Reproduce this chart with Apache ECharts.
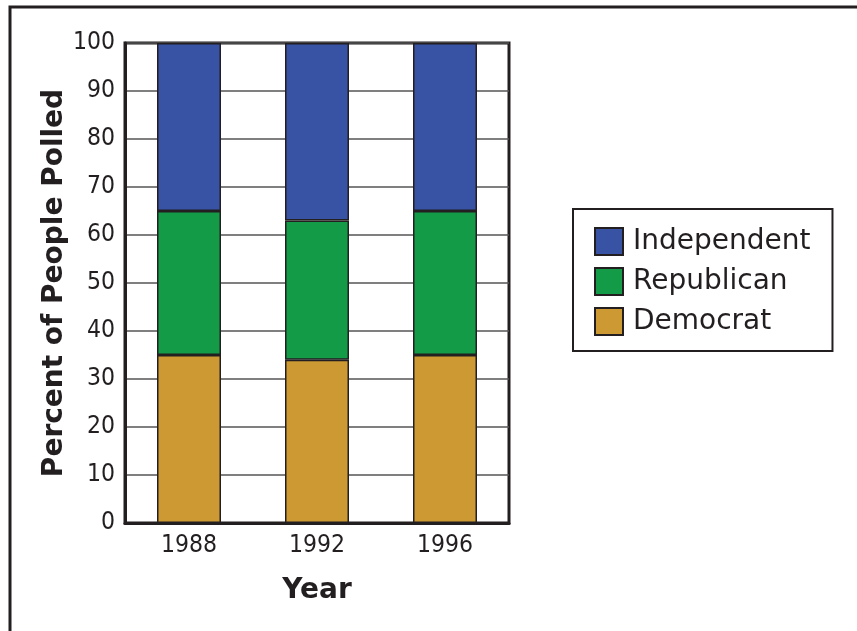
<!DOCTYPE html>
<html>
<head>
<meta charset="utf-8">
<script src="https://cdn.jsdelivr.net/npm/echarts@6/dist/echarts.min.js"></script>
<style>
html,body{margin:0;padding:0;background:#fff;}
#chart{width:857px;height:631px;}
</style>
</head>
<body>
<div id="chart"></div>
<script>
var categories = ['1988', '1992', '1996'];
var democrat = [35, 34, 35];
var republican = [30, 29, 30];
var independent = [35, 37, 35];
var yTicks = [0, 100, 10];

var dark = '#231f20';
var chart = echarts.init(document.getElementById('chart'));
var barBorder = {borderColor: dark, borderWidth: 1.5};
chart.setOption({
  animation: false,
  backgroundColor: '#fff',
  graphic: [{
    type: 'polyline',
    shape: {points: [[10, 700], [10, 7], [900, 7]]},
    style: {stroke: dark, lineWidth: 3, fill: null},
    silent: true
  }],
  legend: {
    orient: 'vertical',
    left: 573,
    top: 209,
    padding: [18, 22, 15, 21],
    itemWidth: 28,
    itemHeight: 27,
    itemGap: 11,
    borderColor: dark,
    borderWidth: 2,
    icon: 'rect',
    data: ['Independent', 'Republican', 'Democrat'],
    textStyle: {fontFamily: 'DejaVu Sans', fontSize: 28, lineHeight: 27, color: dark, padding: [0, 0, 0, 5]}
  },
  grid: {
    left: 125, right: 348, top: 43, bottom: 108,
    show: true, borderColor: dark, borderWidth: 3, backgroundColor: 'transparent'
  },
  xAxis: {
    type: 'category',
    data: categories,
    name: 'Year',
    nameLocation: 'middle',
    nameGap: 54,
    nameTextStyle: {fontFamily: 'DejaVu Sans', fontWeight: 'bold', fontSize: 28, color: dark},
    axisLine: {lineStyle: {color: dark, width: 3}},
    axisTick: {show: false},
    axisLabel: {fontFamily: 'DejaVu Sans Condensed', fontSize: 24.5, color: dark, margin: 10}
  },
  yAxis: {
    type: 'value',
    min: yTicks[0], max: yTicks[1], interval: yTicks[2],
    name: 'Percent of People Polled',
    nameLocation: 'middle',
    nameGap: 55,
    nameTextStyle: {fontFamily: 'DejaVu Sans', fontWeight: 'bold', fontSize: 28, color: dark},
    axisLine: {show: true, lineStyle: {color: dark, width: 3}},
    axisTick: {show: false},
    axisLabel: {fontFamily: 'DejaVu Sans Condensed', fontSize: 24.5, color: dark, margin: 10},
    splitLine: {lineStyle: {color: '#555', width: 1.5}}
  },
  series: [
    {name: 'Democrat', type: 'bar', stack: 'a', data: democrat, barWidth: '50%',
     itemStyle: Object.assign({color: '#cc9933'}, barBorder)},
    {name: 'Republican', type: 'bar', stack: 'a', data: republican, barWidth: '50%',
     itemStyle: Object.assign({color: '#139b48'}, barBorder)},
    {name: 'Independent', type: 'bar', stack: 'a', data: independent, barWidth: '50%',
     itemStyle: Object.assign({color: '#3953a4'}, barBorder)}
  ]
});
</script>
</body>
</html>
